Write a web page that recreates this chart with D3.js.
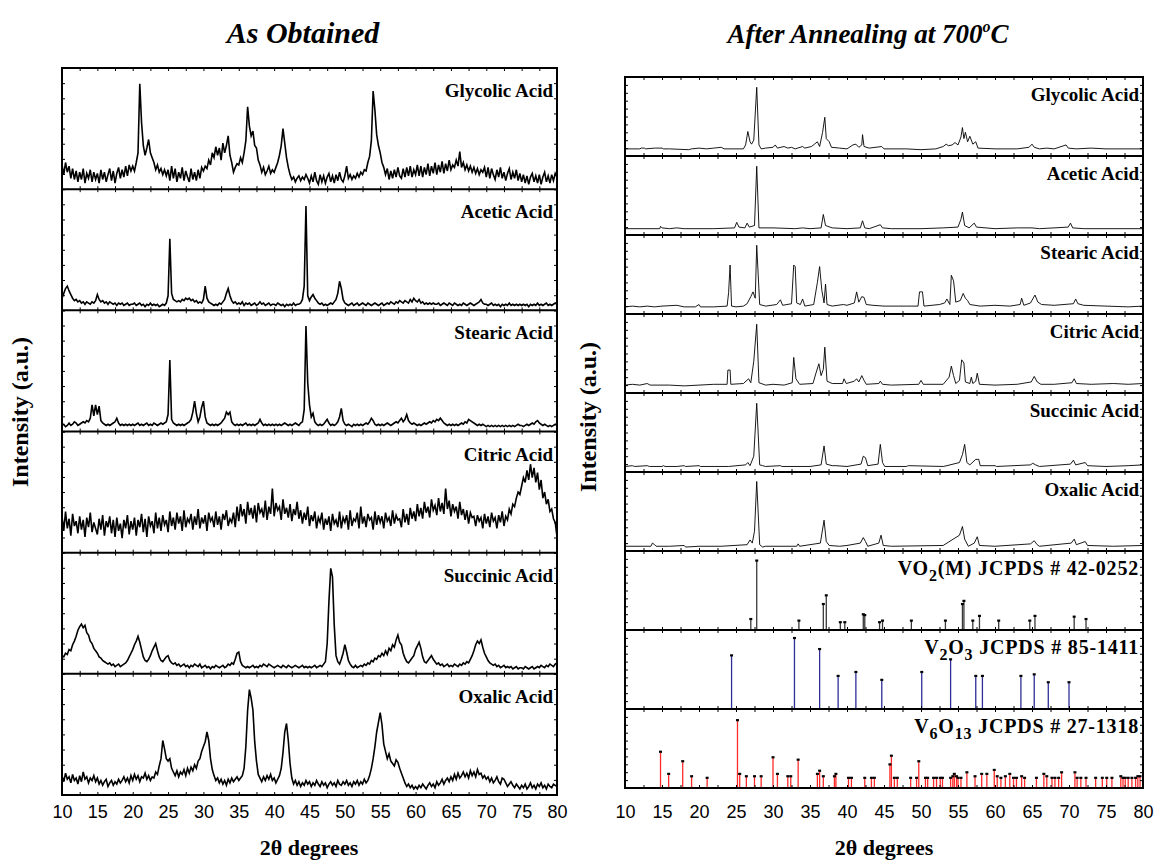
<!DOCTYPE html>
<html>
<head>
<meta charset="utf-8">
<script src="https://cdn.jsdelivr.net/npm/d3@7"></script>
<style>
  body { margin: 0; background: #fff; }
</style>
</head>
<body>
<script>
// ---------------- data ----------------
// intensities are in % of the height of each stacked panel
const acidNames = ['Glycolic Acid', 'Acetic Acid', 'Stearic Acid', 'Citric Acid', 'Succinic Acid', 'Oxalic Acid'];
const refNames = ['VO_2_(M) JCPDS # 42-0252', 'V_2_O_3_ JCPDS # 85-1411', 'V_6_O_13_ JCPDS # 27-1318'];
const xTickLabels = [10, 15, 20, 25, 30, 35, 40, 45, 50, 55, 60, 65, 70, 75, 80];

// as obtained scans, read every 0.25 degree from 10 to 80 (one row = 5 degrees)
const thetaStart = 10;
const thetaStep = 0.25;

const asGlycolic = [
  20,12,22,14,19,9,17,8,15,6,14,8,17,5,13,9,16,6,14,8,
  13,5,16,8,14,6,12,17,7,15,5,13,18,9,16,10,19,11,20,15,
  19,15,22,30,87,55,36,28,34,41,30,26,22,16,20,14,17,12,16,11,
  16,7,19,9,17,6,14,9,18,7,15,10,6,17,8,14,7,16,9,18,
  15,19,17,24,20,30,26,35,28,34,24,38,30,36,44,28,22,14,18,21,
  20,26,22,30,40,68,52,44,48,36,34,24,20,14,18,12,15,19,13,16,
  14,18,22,28,36,50,38,26,18,12,8,10,6,9,11,7,10,8,12,9,
  5,11,6,14,7,4,12,6,11,5,10,13,6,11,5,12,7,14,8,6,
  11,19,9,12,8,11,9,13,10,14,12,16,15,22,27,40,81,65,45,36,
  30,22,18,12,17,8,15,9,16,10,18,11,9,17,10,18,11,19,10,16,
  12,20,11,19,10,18,12,21,11,19,13,22,12,20,14,23,13,21,15,24,
  16,20,18,24,19,31,18,22,16,20,15,19,14,18,13,17,12,16,14,18,
  10,18,9,17,12,8,16,10,18,9,14,7,13,17,8,14,9,16,7,13,
  6,12,5,11,4,10,13,6,11,5,12,4,10,14,6,11,5,12,7,13,
  10
];
const asAcetic = [
  10,14,18,20,16,13,10,8,9,7,8,6,7,5,7,6,5,7,6,8,
  13,9,7,8,6,7,5,7,6,5,6,4,6,5,6,4,5,6,4,5,
  5,6,4,5,6,4,5,3,5,4,6,4,5,4,5,3,4,5,4,6,
  12,59,14,9,8,7,8,7,9,8,10,9,10,8,9,7,8,6,7,6,
  9,20,10,7,6,5,4,5,4,6,5,7,9,14,18,12,8,6,7,5,
  6,5,7,4,6,5,6,4,5,6,4,5,7,5,6,4,5,6,4,5,
  5,4,6,5,4,5,3,5,4,5,4,6,4,5,5,6,9,20,86,12,
  8,11,13,10,8,6,5,6,4,5,4,5,6,5,7,9,14,24,18,9,
  6,5,4,5,6,4,5,6,4,5,6,5,4,6,5,4,5,6,5,4,
  5,6,4,5,6,5,7,6,5,7,6,8,7,6,8,7,6,9,7,10,
  8,7,9,6,7,5,6,5,6,5,6,5,5,6,4,5,6,5,4,6,
  5,4,6,5,4,5,4,6,5,4,5,6,5,4,5,6,7,9,6,5,
  5,4,5,6,4,5,4,5,3,5,4,5,4,6,4,5,4,5,4,5,
  4,5,4,5,3,5,4,5,4,6,4,5,4,5,6,4,5,4,5,6,
  5
];
const asStearic = [
  5,6,4,5,7,5,6,8,7,5,6,7,8,7,9,8,11,22,13,22,
  14,21,9,7,6,5,6,5,6,7,8,11,7,5,6,5,6,5,6,5,
  6,5,6,7,5,6,5,6,7,5,6,5,7,6,5,6,7,6,7,8,
  14,59,10,7,6,5,6,5,6,5,6,7,8,10,16,25,15,8,12,20,
  25,12,7,6,5,6,5,6,5,6,7,9,11,16,14,16,8,6,5,6,
  5,6,5,6,7,5,6,5,6,5,6,7,10,7,5,6,5,6,5,6,
  5,6,5,6,5,6,7,6,5,6,5,6,7,6,5,7,8,18,87,40,
  22,12,15,8,6,5,6,5,6,8,10,7,5,6,5,6,8,12,19,9,
  6,5,6,5,4,6,5,6,5,6,5,6,7,6,8,11,9,6,5,6,
  5,6,5,6,7,6,5,6,7,8,7,9,11,8,10,14,9,7,6,7,
  6,5,6,5,6,7,6,7,8,7,9,8,10,9,11,9,7,6,5,6,
  5,6,5,6,5,6,7,6,8,7,10,9,8,7,6,5,6,5,6,5,
  4,5,4,5,4,5,4,5,4,5,4,5,4,5,4,5,4,5,6,5,
  5,4,5,6,5,6,7,6,8,9,7,6,5,6,5,4,5,4,5,6,
  5
];
const asCitric = [
  30,18,34,20,28,14,32,22,26,16,30,19,27,13,29,21,33,17,25,20,
  15,28,19,31,14,26,21,30,16,27,13,29,18,24,12,27,20,31,15,26,
  19,29,14,27,21,32,17,28,13,30,22,26,16,33,20,29,18,31,23,27,
  17,34,22,29,19,33,24,30,18,35,21,28,25,32,19,30,23,36,20,29,
  24,31,18,33,26,29,21,34,23,30,19,32,27,35,22,28,25,33,21,38,
  26,40,30,36,24,42,31,37,28,39,25,41,33,36,29,43,27,38,32,53,
  30,41,35,38,27,44,32,37,29,40,26,36,31,42,28,35,24,33,27,38,
  22,31,26,34,20,29,25,33,19,28,23,30,18,32,24,27,21,34,20,29,
  25,31,19,35,22,28,26,33,20,38,24,30,21,32,27,29,19,34,23,31,
  25,30,20,33,26,29,22,35,24,31,27,28,21,36,25,32,23,37,28,34,
  26,40,30,37,28,42,33,38,29,44,35,39,31,45,34,41,32,53,36,43,
  30,40,34,38,28,42,31,36,27,35,24,33,29,30,22,31,26,29,20,32,
  24,30,21,33,26,29,20,31,25,34,22,30,27,36,32,40,38,45,50,48,
  55,62,58,68,60,73,62,70,58,66,52,60,45,50,40,44,34,36,28,25,
  13
];
const asSuccinic = [
  15,14,17,16,20,19,24,27,31,36,39,41,38,40,34,32,27,25,21,19,
  17,14,13,11,10,9,8,9,7,8,6,7,8,6,7,8,9,11,14,17,
  20,24,27,31,26,20,14,11,10,12,15,19,22,25,19,14,11,10,12,14,
  15,11,9,8,9,7,8,6,7,8,6,7,5,7,6,8,7,6,8,5,
  6,7,5,6,4,6,5,7,6,5,6,7,5,6,8,7,9,8,12,17,
  18,10,7,6,5,6,5,6,7,5,6,5,7,6,8,7,6,8,7,6,
  5,6,7,6,5,7,6,5,7,6,5,6,7,6,5,6,7,5,6,5,
  6,5,6,7,5,6,7,6,8,10,25,60,87,80,40,15,10,8,12,17,
  24,18,11,8,6,5,7,5,6,7,6,8,7,9,8,11,10,13,12,15,
  14,17,15,19,16,21,19,24,22,28,32,26,24,17,13,10,9,11,13,15,
  20,23,26,21,14,10,9,11,13,15,12,10,8,9,7,8,6,7,8,6,
  7,6,8,7,6,8,7,9,8,10,9,12,15,19,24,27,25,28,22,17,
  14,11,9,8,7,8,6,7,5,6,7,5,6,5,6,4,5,6,4,5,
  5,4,6,5,4,5,6,4,5,6,5,7,6,5,7,6,8,7,6,8,
  9
];
const asOxalic = [
  16,11,18,13,15,10,17,12,14,9,16,11,19,13,15,10,14,12,16,11,
  14,9,12,8,11,13,7,10,12,8,11,9,13,10,12,15,11,14,10,16,
  12,17,13,16,11,15,14,18,13,16,12,15,14,19,17,24,30,45,38,30,
  28,30,22,19,16,20,15,19,17,21,16,22,18,23,20,25,22,28,30,36,
  40,44,52,45,30,21,16,12,14,10,13,9,12,8,13,10,14,11,13,15,
  12,14,16,22,40,70,87,80,70,44,28,17,14,11,15,12,16,13,17,12,
  14,10,13,16,22,35,52,59,45,26,14,9,12,8,11,7,10,8,12,9,
  11,7,10,8,12,9,7,11,8,10,6,9,11,8,10,7,12,9,8,11,
  9,12,8,10,7,11,9,12,8,11,9,13,10,12,16,22,30,40,52,60,
  68,58,42,36,30,34,28,26,24,29,27,22,18,14,10,7,9,6,8,5,
  7,5,8,6,9,7,5,8,10,7,9,6,11,8,10,13,9,12,14,11,
  15,12,17,13,18,14,16,19,15,18,14,20,16,19,15,21,17,18,14,16,
  13,15,11,14,10,12,15,11,9,14,13,10,7,9,11,8,6,9,7,5,
  8,6,9,5,7,10,6,8,5,9,7,10,6,8,5,9,7,6,9,8,
  7
];

// after annealing at 700 C, [2theta, intensity]
const annGlycolic = [[10,9],[12,9],[12.2,10],[12.6,10],[12.8,9],[14,10],[15,10],[15.2,9],[16,9],[18.6,8],[19,9],[20,10],[21,9],[22,10],[23,11],[23.4,9],[26,9],[26.3,14],[26.6,31],[26.9,18],[27.1,15],[27.4,20],[27.8,87],[28.1,14],[28.4,9],[29,10],[30,11],[30.3,14],[30.6,10],[31.5,12],[32,10],[32.5,11],[33,9],[34,12],[34.3,10],[35.2,12],[35.6,15],[36.0,18],[36.3,12],[36.7,30],[37.0,49],[37.2,22],[37.6,18],[37.9,11],[39,10],[40,9],[40.8,14],[41.2,15],[41.6,11],[42.0,14],[42.1,27],[42.3,12],[43,10],[44.7,12],[45,9],[48,9],[50,8],[52,9],[53.0,12],[53.4,15],[53.7,13],[54.2,14],[54.6,17],[55.0,14],[55.4,24],[55.6,36],[55.8,22],[56.0,30],[56.3,18],[56.6,25],[57.0,15],[57.4,18],[57.7,10],[60,9],[63,9],[64.6,11],[65.0,15],[65.3,11],[66,9],[67,10],[68,9],[69.6,14],[69.9,10],[71,9],[73,10],[75,9],[80,9]];
const annAcetic = [[10,8],[14.7,8],[14.8,11],[15.0,9],[16,8],[17,9],[18,8],[20,8],[22,8],[24.8,9],[25.1,16],[25.4,10],[26.2,9],[26.5,15],[26.8,10],[27.5,12],[27.8,87],[28.1,9],[30,9],[33,8],[34,9],[35,8],[36.5,9],[36.8,26],[37.1,12],[38,9],[40,8],[41.8,9],[42.1,18],[42.4,9],[43,8],[44.5,13],[44.8,9],[46,8],[50,8],[53,9],[55,10],[55.4,20],[55.6,29],[55.9,12],[56.5,9],[57.2,15],[57.5,10],[60,8],[63,9],[65,9],[66,8],[69.9,10],[70.2,15],[70.5,9],[72,8],[80,8]];
const annStearic = [[10,9],[11,10],[12,9],[13,10],[14,9],[15,10],[17,11],[18,9],[19.5,9],[20,12],[20.2,9],[22,9],[23.8,10],[24.0,27],[24.2,62],[24.4,10],[25,9],[26,10],[26.5,13],[27.0,22],[27.3,28],[27.6,20],[27.8,87],[28.2,12],[29,10],[30.5,12],[31.0,18],[31.3,11],[32.5,13],[32.8,62],[33.0,60],[33.2,14],[33.7,12],[34.0,19],[34.3,10],[35.5,12],[36.0,40],[36.3,60],[36.6,30],[36.9,14],[37.1,38],[37.3,12],[38,10],[39.5,12],[40,11],[41.0,14],[41.3,28],[41.6,15],[42.0,22],[42.3,21],[42.6,12],[43.5,11],[45,10],[48,10],[49.6,10],[49.8,28],[50.2,28],[50.4,10],[52.5,12],[53.2,14],[53.5,19],[53.9,12],[54.1,49],[54.4,42],[54.7,15],[55.3,17],[55.7,26],[56.0,20],[56.3,17],[56.6,12],[58,10],[60,11],[62,10],[63.4,12],[63.6,20],[63.9,11],[64.8,14],[65.4,24],[65.8,15],[66.3,12],[68,11],[70.6,13],[70.9,19],[71.2,13],[72,11],[75,10],[78,9],[80,10]];
const annCitric = [[10,10],[11,11],[12,10],[13,12],[13.4,10],[16,10],[18,9],[20,10],[22,11],[23.8,11],[23.9,29],[24.2,29],[24.3,11],[26,12],[26.7,18],[27.0,13],[27.4,40],[27.8,87],[28.1,13],[29,10],[30,11],[31.5,10],[32.6,13],[32.8,45],[33.1,18],[33.6,11],[35.4,12],[35.8,25],[36.2,37],[36.5,22],[36.8,30],[37.0,58],[37.3,15],[38,12],[39.4,12],[39.6,18],[39.9,12],[41.0,15],[41.3,18],[41.6,14],[42.0,22],[42.3,16],[42.6,11],[44.3,12],[44.5,15],[44.8,11],[46,10],[49.7,11],[50.0,16],[50.3,11],[53,11],[53.8,20],[54.1,34],[54.4,22],[54.7,12],[55.2,16],[55.5,42],[55.8,38],[56.0,14],[56.6,12],[56.8,20],[57.0,12],[57.4,15],[57.6,25],[57.9,11],[60,10],[63,11],[64.9,14],[65.3,21],[65.7,14],[66.2,11],[68,11],[70.4,13],[70.7,18],[71.0,12],[73,11],[76,12],[78,11],[80,12]];
const annSuccinic = [[10,7],[11,8],[11.3,7],[13,8],[13.3,7],[15,7],[15.2,8],[15.4,7],[17,7],[18,8],[18.2,7],[20,8],[20.2,7],[24,7],[26.3,9],[26.6,12],[26.9,8],[27.4,20],[27.8,87],[28.2,9],[28.6,8],[29,7],[31,8],[31.2,7],[35,7],[36.5,9],[36.9,33],[37.2,10],[38,8],[38.5,8],[40,7],[41.9,10],[42.2,20],[42.5,18],[42.8,8],[44.2,10],[44.5,35],[44.8,12],[45.1,7],[48,7],[48.3,8],[53,7],[53.5,8],[55.2,12],[55.6,22],[55.9,35],[56.2,12],[56.6,9],[57.4,16],[57.8,16],[58.0,8],[60,8],[60.2,7],[64.8,9],[65.1,11],[65.5,9],[66,7],[70.2,10],[70.6,15],[70.9,9],[72.2,12],[72.5,8],[75,7],[78,8],[80,9]];
const annOxalic = [[10,6],[13.5,6],[13.7,10],[14,8],[14.2,6],[16,6],[18,7],[18.2,5],[20,6],[23,6],[26.5,8],[26.9,14],[27.2,10],[27.5,25],[27.8,88],[28.2,8],[28.6,5],[29,6],[33.2,6],[33.4,9],[33.6,6],[36.4,10],[36.9,39],[37.2,12],[37.6,7],[39,6],[40,7],[41.8,10],[42.2,17],[42.5,12],[42.8,6],[44.3,10],[44.6,20],[44.9,7],[46,6],[53,7],[55.2,20],[55.6,31],[55.9,15],[56.4,6],[57.2,10],[57.6,18],[57.9,7],[60,6],[64.8,9],[65.3,13],[65.7,8],[66,6],[70.3,10],[70.7,15],[71.0,8],[72.2,12],[72.5,7],[76,6],[80,7]];

// reference cards (stick patterns)
const vo2Theta = [27.0,27.8,33.5,36.8,37.2,39.1,39.7,42.2,42.4,44.4,44.8,48.7,53.3,55.6,55.8,57.0,57.9,60.5,64.7,65.4,70.7,72.3];
const vo2Int   = [14,88,12,33,44,10,10,20,19,10,12,12,12,33,37,12,18,12,12,18,17,14];
const v2o3Theta = [24.4,32.9,36.3,38.8,41.2,44.7,50.1,54.0,57.4,58.3,63.5,65.3,67.2,70.0];
const v2o3Int   = [68,90,76,42,47,37,47,63,42,42,42,44,34,34];
const v6o13Theta = [14.8,15.9,17.8,19.0,21.1,25.2,25.5,26.4,27.5,28.4,30.0,30.6,32.0,32.4,33.4,36.0,36.3,36.8,38.3,38.5,
  40.2,40.6,42.4,43.3,43.7,45.8,46.0,46.4,46.8,48.6,49.4,49.7,50.6,50.9,51.7,52.1,52.6,52.9,54.0,54.3,
  54.5,54.8,55.0,55.4,56.2,57.3,58.2,58.9,59.9,60.3,60.8,61.4,62.0,62.5,62.9,63.6,64.0,65.6,66.6,67.0,
  67.7,68.1,68.6,69.0,70.8,71.1,71.6,72.3,73.6,74.5,75.1,75.8,77.0,77.3,77.6,78.0,78.5,79.0,79.3,79.6];
const v6o13Int = [46,18,34,15,13,86,18,15,15,15,39,18,15,15,36,18,22,15,15,18,
  13,13,13,13,13,30,41,13,13,13,13,34,13,13,13,13,13,13,13,15,
  18,15,13,13,20,15,18,18,23,15,13,15,18,13,13,15,13,13,18,15,
  13,13,13,20,20,13,13,13,13,13,13,13,15,13,13,13,13,13,15,15];

// ---------------- layout ----------------
const W = 1160, H = 862;
const serif = "'Liberation Serif', 'Times New Roman', serif";
const sans = "'Liberation Sans', Arial, sans-serif";

const leftBox = { x0: 62, x1: 557, y0: 68, y1: 795, yTicks: 8, labelDy: 29 };
const rightBox = { x0: 625, x1: 1143, y0: 77, y1: 788, yTicks: 10, labelDy: 24 };

const svg = d3.select('body').append('svg')
  .attr('width', W)
  .attr('height', H);

svg.append('rect').attr('width', W).attr('height', H).attr('fill', '#fff');

function buildStack(box, n) {
  const x = d3.scaleLinear().domain([10, 80]).range([box.x0, box.x1]);
  const h = (box.y1 - box.y0) / n;
  const panels = d3.range(n).map(i => {
    const top = box.y0 + i * h;
    const bottom = top + h;
    return { top, bottom, y: d3.scaleLinear().domain([0, 100]).range([bottom, top]) };
  });
  return { x, panels };
}

// small inward ticks on every side of a panel
function panelTicks(g, x, p, box) {
  const minor = d3.range(10, 80.01, 2.5);
  const yt = d3.range(0, 100.01, 100 / box.yTicks);
  const noDomain = a => a.select('.domain').remove();
  g.append('g').attr('transform', `translate(0,${p.top})`)
    .call(d3.axisBottom(x).tickValues(minor).tickSize(3).tickFormat(''))
    .call(noDomain);
  g.append('g').attr('transform', `translate(0,${p.bottom})`)
    .call(d3.axisTop(x).tickValues(minor).tickSize(3).tickFormat(''))
    .call(noDomain);
  g.append('g').attr('transform', `translate(${box.x0},0)`)
    .call(d3.axisRight(p.y).tickValues(yt).tickSize(3).tickFormat(''))
    .call(noDomain);
  g.append('g').attr('transform', `translate(${box.x1},0)`)
    .call(d3.axisLeft(p.y).tickValues(yt).tickSize(3).tickFormat(''))
    .call(noDomain);
}

// panel label, parts between "_" are subscripts
function panelLabel(g, text, box, p, size, spacing) {
  const t = g.append('text')
    .attr('x', box.x1 - 4)
    .attr('y', p.top + box.labelDy)
    .attr('text-anchor', 'end')
    .attr('font-family', serif)
    .attr('font-weight', 'bold')
    .attr('font-size', size)
    .attr('letter-spacing', spacing);
  text.split('_').forEach((s, i) => {
    if (!s) return;
    const sub = i % 2 === 1;
    t.append('tspan')
      .attr('font-size', sub ? size - 4 : size)
      .attr('dy', sub ? 6 : (i > 0 ? -6 : 0))
      .text(s);
  });
}

function frame(box, panels) {
  const g = svg.append('g').attr('fill', 'none').attr('stroke', '#000');
  g.append('rect')
    .attr('x', box.x0).attr('y', box.y0)
    .attr('width', box.x1 - box.x0).attr('height', box.y1 - box.y0)
    .attr('stroke-width', 2);
  panels.slice(1).forEach(p => {
    g.append('line')
      .attr('x1', box.x0).attr('x2', box.x1)
      .attr('y1', p.top).attr('y2', p.top)
      .attr('stroke-width', 2);
  });
}

function bottomAxis(box, x) {
  const pad = 818.5 - 12.8 - box.y1;
  svg.append('g')
    .attr('transform', `translate(0,${box.y1})`)
    .call(d3.axisBottom(x).tickValues(xTickLabels).tickSize(0).tickPadding(pad))
    .call(a => a.select('.domain').remove())
    .attr('font-family', sans)
    .attr('font-size', 18);
}

// ---------------- left: as obtained ----------------
const asScans = [asGlycolic, asAcetic, asStearic, asCitric, asSuccinic, asOxalic];
const L = buildStack(leftBox, acidNames.length);

asScans.forEach((vals, i) => {
  const p = L.panels[i];
  const pts = vals.map((v, k) => [thetaStart + k * thetaStep, v]);
  const line = d3.line().x(d => L.x(d[0])).y(d => p.y(d[1]));
  const g = svg.append('g');
  g.append('path')
    .datum(pts)
    .attr('d', line)
    .attr('fill', 'none')
    .attr('stroke', '#000')
    .attr('stroke-width', 1.6);
  panelTicks(g, L.x, p, leftBox);
  panelLabel(g, acidNames[i], leftBox, p, 19, 0);
});
frame(leftBox, L.panels);
bottomAxis(leftBox, L.x);

// ---------------- right: after annealing ----------------
const annScans = [annGlycolic, annAcetic, annStearic, annCitric, annSuccinic, annOxalic];
const refCards = [
  { theta: vo2Theta, inten: vo2Int, color: '#3a3a3a' },
  { theta: v2o3Theta, inten: v2o3Int, color: '#2e2e96' },
  { theta: v6o13Theta, inten: v6o13Int, color: '#ff2a2a' },
];
const R = buildStack(rightBox, annScans.length + refCards.length);

annScans.forEach((pts, i) => {
  const p = R.panels[i];
  const line = d3.line().x(d => R.x(d[0])).y(d => p.y(d[1]));
  const g = svg.append('g');
  g.append('path')
    .datum(pts)
    .attr('d', line)
    .attr('fill', 'none')
    .attr('stroke', '#000')
    .attr('stroke-width', 0.9);
  panelTicks(g, R.x, p, rightBox);
  panelLabel(g, acidNames[i], rightBox, p, 19, 0);
});

refCards.forEach((card, j) => {
  const p = R.panels[annScans.length + j];
  const sticks = d3.zip(card.theta, card.inten);
  const g = svg.append('g');
  g.append('g')
    .selectAll('line')
    .data(sticks)
    .join('line')
    .attr('x1', d => R.x(d[0])).attr('x2', d => R.x(d[0]))
    .attr('y1', p.y(0)).attr('y2', d => p.y(d[1]))
    .attr('stroke', card.color)
    .attr('stroke-width', 1.3);
  g.append('g')
    .selectAll('rect')
    .data(sticks)
    .join('rect')
    .attr('x', d => R.x(d[0]) - 1.5)
    .attr('y', d => p.y(d[1]) - 1)
    .attr('width', 3)
    .attr('height', 2.2)
    .attr('fill', '#000');
  panelTicks(g, R.x, p, rightBox);
  panelLabel(g, refNames[j], rightBox, p, 20, 0.8);
});
frame(rightBox, R.panels);
bottomAxis(rightBox, R.x);

// ---------------- titles ----------------
svg.append('text')
  .attr('x', 303).attr('y', 43)
  .attr('text-anchor', 'middle')
  .attr('font-family', serif).attr('font-weight', 'bold').attr('font-style', 'italic')
  .attr('font-size', 30)
  .text('As Obtained');

const t2 = svg.append('text')
  .attr('x', 868).attr('y', 43)
  .attr('text-anchor', 'middle')
  .attr('font-family', serif).attr('font-weight', 'bold').attr('font-style', 'italic')
  .attr('font-size', 27);
t2.append('tspan').text('After Annealing at 700');
t2.append('tspan').attr('font-size', 16).attr('dy', -11).text('o');
t2.append('tspan').attr('dy', 11).text('C');

[[20, 412], [588, 417]].forEach(([x, y]) => {
  svg.append('text')
    .attr('transform', `translate(${x},${y}) rotate(-90)`)
    .attr('text-anchor', 'middle')
    .attr('dominant-baseline', 'central')
    .attr('font-family', serif).attr('font-weight', 'bold')
    .attr('font-size', 24)
    .text('Intensity (a.u.)');
});

[309, 884].forEach(x => {
  svg.append('text')
    .attr('x', x).attr('y', 855)
    .attr('text-anchor', 'middle')
    .attr('font-family', serif).attr('font-weight', 'bold')
    .attr('font-size', 22)
    .text('2θ degrees');
});
</script>
</body>
</html>
